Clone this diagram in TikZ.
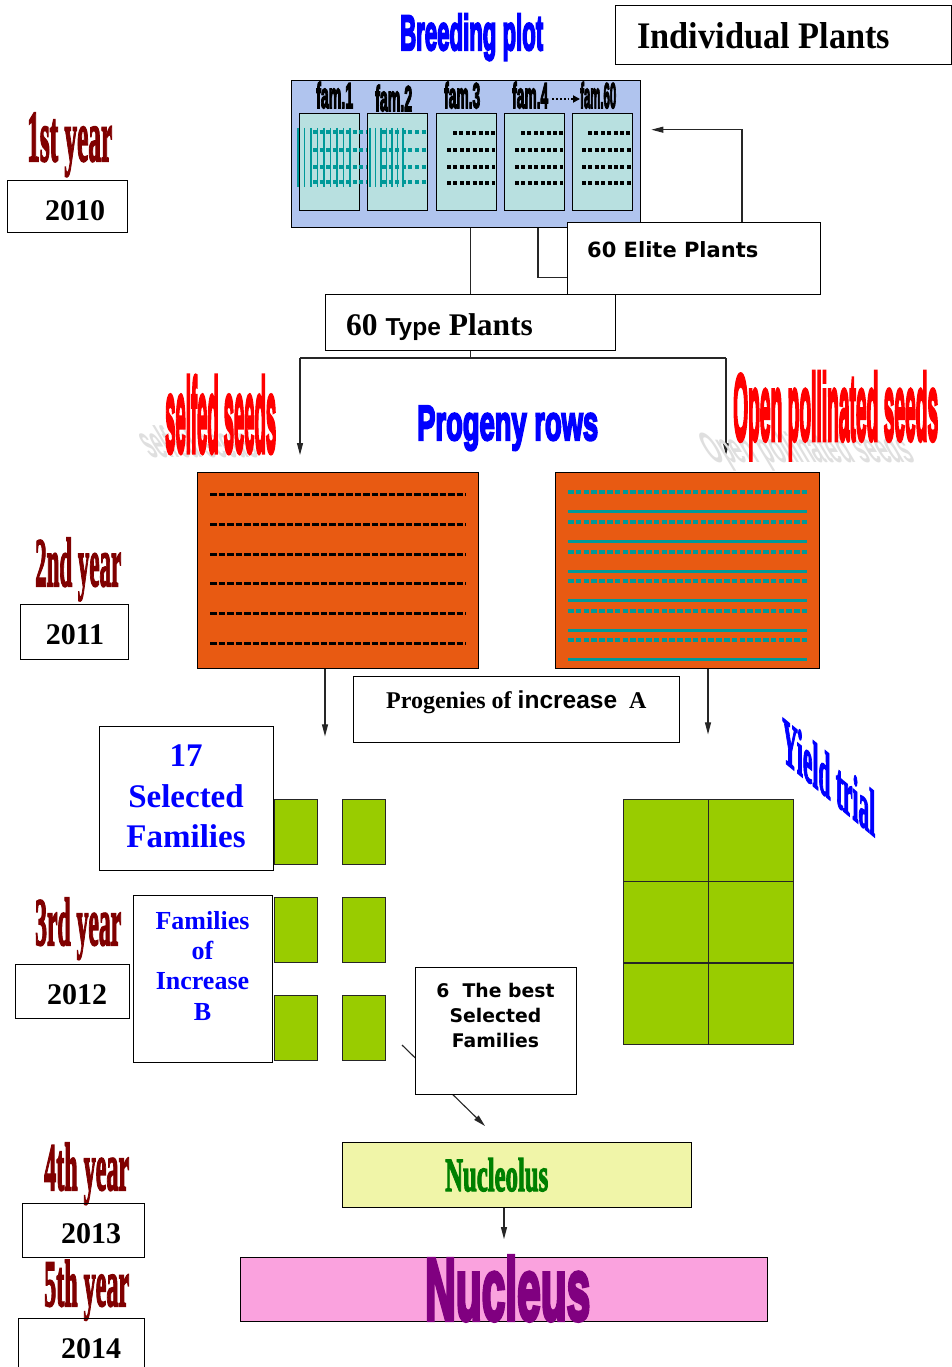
\documentclass[tikz,border=0pt]{standalone}
\usepackage{graphicx}
\usepackage{fontspec}
\setmainfont{Liberation Serif}
\newfontfamily\lsans{Liberation Sans}
\newfontfamily\hsans[UprightFont={* Bold}, FakeBold=5]{Liberation Sans}
\newfontfamily\hserif[UprightFont={* Bold}, FakeBold=3]{Liberation Serif}
\newfontfamily\dvsans{DejaVu Sans}
\usetikzlibrary{arrows.meta,calc}
\newcommand{\wa}[3]{\resizebox{#1pt}{#2pt}{#3}}
\definecolor{bpblue}{RGB}{176,196,238}
\definecolor{subcyan}{RGB}{184,224,224}
\definecolor{orng}{RGB}{232,90,18}
\definecolor{tealc}{RGB}{0,153,153}
\definecolor{lgreen}{RGB}{153,204,0}
\definecolor{nyellow}{RGB}{240,245,168}
\definecolor{npink}{RGB}{250,162,222}
\definecolor{dred}{RGB}{128,0,0}
\definecolor{ngreen}{RGB}{0,128,0}
\definecolor{npurple}{RGB}{128,0,128}
\begin{document}
\begin{tikzpicture}[x=1pt,y=-1pt,
  box/.style={draw=black, line width=1.4pt, inner sep=0pt, anchor=north west},
  gbox/.style={draw=black!85, line width=1pt, inner sep=0pt, anchor=north west, fill=lgreen},
  conn/.style={draw=black!85, line width=1.1pt},
  arr/.style={conn, -{Triangle[length=12pt,width=6pt]}},
  wat/.style={inner sep=0pt, anchor=base west},
  yr/.style={inner sep=0pt, anchor=base, font=\fontsize{30}{36}\selectfont\bfseries},
  bdash/.style={black, line width=4pt, dash pattern=on 4pt off 2.4pt},
  odash/.style={black, line width=3pt, dash pattern=on 6.5pt off 2pt},
  tdash/.style={tealc, line width=3.6pt, dash pattern=on 5.5pt off 2.3pt},
  tline/.style={tealc, line width=3pt},
]
\useasboundingbox (0,0) rectangle (952,1367);
\fill[white] (0,0) rectangle (952,1367);

% ---------- top titles ----------
\node[wat, text=blue] (bptitle) at (400,50) {\wa{143}{36}{\hsans Breeding plot}};
\node[box, minimum width=336pt, minimum height=59pt] (indiv) at (615,5) {};
\node[wat] (indivt) at (637,49) {\wa{253}{26}{\bfseries Individual Plants}};

% ---------- breeding plot ----------
\node[box, fill=bpblue, minimum width=349pt, minimum height=147pt] (bp) at (291,80) {};
\foreach \x [count=\i] in {299,367,436,504,572}
  \node[box, line width=1pt, fill=subcyan, minimum width=60pt, minimum height=97pt] (sb\i) at (\x,113) {};
% patterns fam.1 and fam.2
\foreach \x in {298,304.5,...,352} \draw[tealc, line width=1.4pt] (\x,128) -- (\x,187);
\foreach \y in {132,150,167,182} \draw[tdash, line width=3.5pt, dash pattern=on 4pt off 2.6pt] (313,\y) -- (367,\y);
\foreach \x in {370,375.5,...,408} \draw[tealc, line width=1.4pt] (\x,128) -- (\x,187);
\foreach \y in {132,150,167,182} \draw[tdash, line width=3.5pt, dash pattern=on 4pt off 2.6pt] (382,\y) -- (427,\y);
% black rows fam.3..fam.60
\foreach \bx/\ex in {447/495,515/563,582/631}{
  \draw[bdash] (\bx+6,133) -- (\ex,133);
  \foreach \y in {150,167,183} \draw[bdash] (\bx,\y) -- (\ex,\y);
}
\node[wat] (f1) at (316,108) {\wa{37}{26}{\hsans fam.1}};
\node[wat] (f2) at (375,111) {\wa{37}{26}{\hsans fam.2}};
\node[wat] (f3) at (444,108) {\wa{36}{26}{\hsans fam.3}};
\node[wat] (f4) at (512,108) {\wa{36}{26}{\hsans fam.4}};
\node[wat] (f60) at (580,108) {\wa{36}{26}{\hsans fam.60}};
\draw[black, line width=1.8pt, dotted, -{Triangle[length=7pt,width=7pt]}] ($(f4.east |- 0,99)+(4,0)$) -- (f60.west |- 0,99);

% ---------- elite / type ----------
\node[box, fill=white, minimum width=253pt, minimum height=72pt] (elite) at (567,222) {};
\node[wat, font=\dvsans\bfseries\fontsize{21}{24}\selectfont] (elitet) at (587,257) {60 Elite Plants};
\node[box, fill=white, minimum width=290pt, minimum height=56pt] (type) at (325,294) {};
\node[wat] (typet) at (346,335) {\fontsize{31.5}{36}\selectfont\bfseries 60 {\lsans\fontsize{24.5}{28}\selectfont Type} Plants};

\draw[conn] (type.north) -- (type.north |- bp.south);
\draw[conn] ($(bp.south west)+(247,0)$) |- ($(elite.south west)+(0,-18)$);
\draw[arr] ($(elite.north west)+(175,0)$) |- ($(bp.east)+(10,-24.5)$);

% ---------- split to progeny rows ----------
\coordinate (sl) at (300,358);
\coordinate (sr) at (726,358);
\draw[conn] (type.south) -- (type.south |- sl);
\draw[conn] (sl) -- (sr);
\draw[arr] (sl) -- ++(0,97);
\draw[arr] (sr) -- ++(0,97);

% shadows
\begin{scope}[shift={(150,457)}, xslant=-0.6, yscale=0.42]
\node[wat, transform shape, text=gray!25] (ssh) at (0,0) {\wa{111}{76}{\lsans\bfseries selfed seeds}};
\end{scope}
\begin{scope}[shift={(712,462)}, xslant=-0.6, yscale=0.45]
\node[wat, transform shape, text=gray!25] (osh) at (0,0) {\wa{205}{68}{\lsans\bfseries Open pollinated seeds}};
\end{scope}
\node[wat, text=red] (selfed) at (165,452) {\wa{111}{76}{\hsans selfed seeds}};
\node[wat, text=red] (openp) at (733,440) {\wa{205}{68}{\hsans Open pollinated seeds}};
\node[wat, text=blue] (progeny) at (417,440) {\wa{181}{34}{\hsans Progeny rows}};

% ---------- orange plots ----------
\node[box, fill=orng, minimum width=281pt, minimum height=196pt] (orL) at (197,472) {};
\node[box, fill=orng, minimum width=264pt, minimum height=196pt] (orR) at (555,472) {};
\foreach \y in {494,524,554,583,613,643} \draw[odash] (210,\y) -- (466,\y);
\foreach \y in {492,522,552,581,611,640} \draw[tdash] (568,\y) -- (807,\y);
\foreach \y in {511,541,571,600,630,659} \draw[tline] (568,\y) -- (807,\y);

\draw[arr] ($(orL.south west)+(128,0)$) -- ++(0,67);
\draw[arr] ($(orR.south west)+(153,0)$) -- ++(0,65);

\node[box, fill=white, minimum width=326pt, minimum height=66pt] (progA) at (353,676) {};
\node[wat] (progAt) at (386,708) {\fontsize{24}{28}\selectfont\bfseries Progenies of {\lsans\fontsize{24.5}{28}\selectfont increase}\ \ A};

% yield trial
\begin{scope}[shift={(782,760)}, yslant=-0.83]
\node[wat, transform shape, text=blue] (yield) at (0,0) {\wa{93}{45}{\hserif Yield trial}};
\end{scope}

% ---------- green plots ----------
\foreach \x in {274,342} \foreach \y in {799,897,995}
  \node[gbox, minimum width=43pt, minimum height=65pt] (g-\x-\y) at (\x,\y) {};
\foreach \x in {623,708} \foreach \y in {799,880.7,962.3}
  \node[gbox, line width=1.2pt, minimum width=85pt, minimum height=81.7pt] (yt-\x-\y) at (\x,\y) {};

\node[box, fill=white, minimum width=174pt, minimum height=144pt] (sel17) at (99,726) {};
\node[inner sep=0pt, anchor=north, align=center, text=blue, font=\fontsize{33}{40.5}\selectfont\bfseries] (sel17t) at (186,745) {17\\Selected\\Families};

\node[box, fill=white, minimum width=139pt, minimum height=167pt] (famB) at (133,895) {};
\node[inner sep=0pt, anchor=north, align=center, text=blue, font=\fontsize{26}{30.3}\selectfont\bfseries] (famBt) at (202.5,911) {Families\\of\\Increase\\B};

% best selected
\coordinate (bs) at (402,1045);
\coordinate (be) at (485,1126);
\draw[arr] (bs) -- (be);
\node[box, fill=white, minimum width=161pt, minimum height=127pt] (best) at (415,967) {};
\node[inner sep=0pt, anchor=north, align=center, font=\dvsans\bfseries\fontsize{18.8}{25}\selectfont] (bestt) at (495.5,983) {6\ \ The best\\Selected\\Families};

% ---------- nucleolus / nucleus ----------
\node[box, line width=1.1pt, fill=nyellow, minimum width=349pt, minimum height=65pt] (nucleolus) at (342,1142) {};
\node[wat, text=ngreen] (nucleolust) at (445,1191) {\wa{103}{33}{\hserif Nucleolus}};
\draw[arr] ($(nucleolus.south west)+(162,0)$) -- ++(0,31);
\node[box, line width=1.1pt, fill=npink, minimum width=527pt, minimum height=64pt] (nucleus) at (240,1257) {};
\node[wat, text=npurple] (nucleust) at (425,1320) {\wa{165}{64}{\hsans Nucleus}};

% ---------- years ----------
\node[wat, text=dred] (y1) at (27,161) {\wa{85}{48}{\hserif 1st year}};
\node[box, minimum width=120pt, minimum height=52pt] (b1) at (7,180) {};
\node[yr] (t1) at (75,220) {2010};
\node[wat, text=dred] (y2) at (35,586) {\wa{86}{48}{\hserif 2nd year}};
\node[box, minimum width=108pt, minimum height=55pt] (b2) at (20,604) {};
\node[yr] (t2) at (75,644) {2011};
\node[wat, text=dred] (y3) at (35,945) {\wa{86}{47}{\hserif 3rd year}};
\node[box, minimum width=114pt, minimum height=54pt] (b3) at (15,964) {};
\node[yr] (t3) at (77,1004) {2012};
\node[wat, text=dred] (y4) at (44,1190) {\wa{85}{47}{\hserif 4th year}};
\node[box, minimum width=122pt, minimum height=54pt] (b4) at (22,1203) {};
\node[yr] (t4) at (91,1243) {2013};
\node[wat, text=dred] (y5) at (44,1306) {\wa{85}{46}{\hserif 5th year}};
\node[box, minimum width=126pt, minimum height=60pt] (b5) at (18,1318) {};
\node[yr] (t5) at (91,1358) {2014};
\end{tikzpicture}
\end{document}
